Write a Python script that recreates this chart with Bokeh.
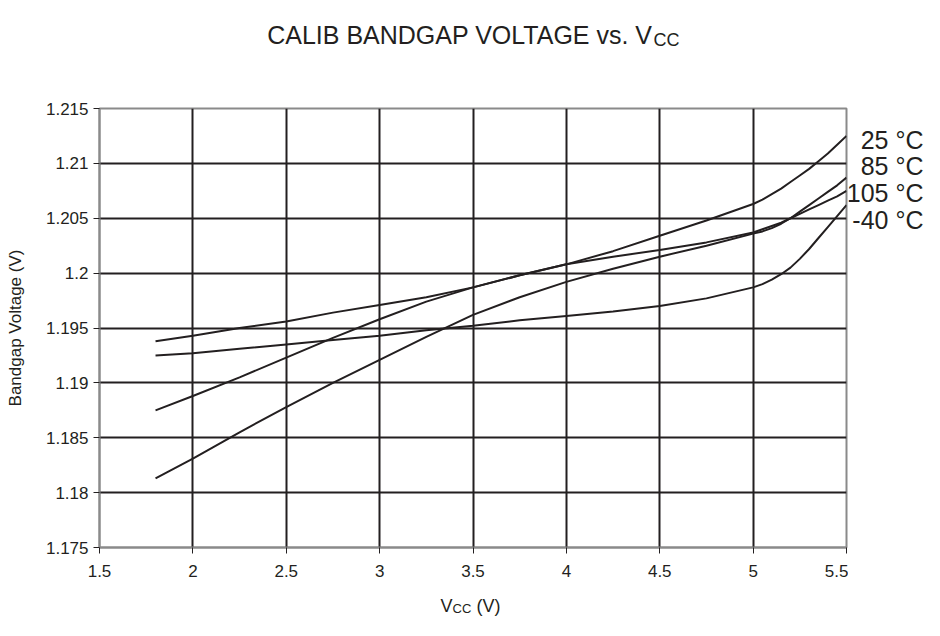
from bokeh.plotting import figure
from bokeh.layouts import column, row
from bokeh.models import FixedTicker, CustomJSTickFormatter, Range1d
from bokeh.core.properties import value
from bokeh.embed import file_html
from bokeh.resources import INLINE

# ---------------- data ----------------
vcc = [1.8, 2.0, 2.25, 2.5, 2.75, 3.0, 3.25, 3.5, 3.75, 4.0, 4.25, 4.5, 4.75,
       5.0, 5.05, 5.1, 5.15, 5.2, 5.25, 5.3, 5.35, 5.4, 5.45, 5.5]
v_25 = [1.1875, 1.1888, 1.1905, 1.1923, 1.1941, 1.1958, 1.1974, 1.1987, 1.1998,
        1.2008, 1.2020, 1.2034, 1.2048, 1.2063, 1.2067, 1.2072, 1.2077, 1.2083,
        1.2089, 1.2095, 1.2102, 1.2109, 1.2117, 1.2125]
v_85 = [1.1813, 1.1831, 1.1855, 1.1878, 1.1900, 1.1921, 1.1942, 1.1962, 1.1978,
        1.1992, 1.2004, 1.2015, 1.2025, 1.2036, 1.2038, 1.2041, 1.2045, 1.2050,
        1.2056, 1.2062, 1.2068, 1.2074, 1.2080, 1.2087]
v_105 = [1.1938, 1.1943, 1.1950, 1.1956, 1.1964, 1.1971, 1.1978, 1.1987, 1.1998,
         1.2008, 1.2015, 1.2021, 1.2028, 1.2037, 1.2040, 1.2043, 1.2046, 1.2050,
         1.2054, 1.2058, 1.2062, 1.2066, 1.2070, 1.2075]
v_m40 = [1.1925, 1.1927, 1.1931, 1.1935, 1.1939, 1.1943, 1.1948, 1.1952, 1.1957,
         1.1961, 1.1965, 1.1970, 1.1977, 1.1987, 1.1990, 1.1994, 1.1999, 1.2005,
         1.2013, 1.2022, 1.2032, 1.2042, 1.2052, 1.2062]
series_labels = ["25 °C", "85 °C", "105 °C", "-40 °C"]
x_ticks = [1.5, 2.0, 2.5, 3.0, 3.5, 4.0, 4.5, 5.0, 5.5]
y_ticks = [1.175, 1.18, 1.185, 1.19, 1.195, 1.2, 1.205, 1.21, 1.215]
title_main, title_sub = "CALIB BANDGAP VOLTAGE vs. V", "CC"
xlab_parts = ["V", "CC", "(V)"]
ylab = "Bandgap Voltage (V)"

# ---------------- geometry (canvas pixels) ----------------
W, H = 924, 620
TITLE_H = 58            # strip holding the title
XLAB_H = 36             # strip holding the x-axis label
MAIN_H = H - TITLE_H - XLAB_H
RIGHT_W = 76            # strip holding the series labels
MAIN_W = W - RIGHT_W
FR_L, FR_R = 99, 846    # frame left / right
FR_T, FR_B = 108, 547   # frame top / bottom
B_TOP = FR_T - TITLE_H
B_BOT = (TITLE_H + MAIN_H) - FR_B

INK = "#231f20"
FONT = "Liberation Sans"


def text_strip(w, h, xr, yr, bt=0, bb=0):
    f = figure(width=w, height=h, output_backend="svg", toolbar_location=None,
               x_range=Range1d(*xr), y_range=Range1d(*yr),
               x_axis_type=None, y_axis_type=None,
               min_border=0, min_border_left=0, min_border_right=0,
               min_border_top=bt, min_border_bottom=bb)
    f.outline_line_color = None
    f.background_fill_color = "white"
    f.border_fill_color = "white"
    return f


def put(f, txt, x, y, size, align="left"):
    f.text(x=[x], y=[y], text=[txt], text_font=value(FONT),
           text_font_size=f"{size}px", text_color=INK,
           text_align=align, text_baseline="alphabetic")


# ---------------- main chart ----------------
p = figure(width=MAIN_W, height=MAIN_H, output_backend="svg", toolbar_location=None,
           x_range=Range1d(x_ticks[0], x_ticks[-1]),
           y_range=Range1d(y_ticks[0], y_ticks[-1]),
           min_border_left=FR_L, min_border_right=MAIN_W - FR_R,
           min_border_top=B_TOP, min_border_bottom=B_BOT)
p.outline_line_color = "#8a8a8a"
p.outline_line_width = 2
p.background_fill_color = "white"
p.border_fill_color = "white"

fmt = CustomJSTickFormatter(code="return String(parseFloat(tick.toFixed(3)));")
for ax, ticks in ((p.xaxis[0], x_ticks), (p.yaxis[0], y_ticks)):
    ax.ticker = FixedTicker(ticks=ticks)
    ax.formatter = fmt
    ax.axis_line_color = "#8a8a8a"
    ax.axis_line_width = 2
    ax.major_tick_line_color = INK
    ax.major_tick_line_width = 1
    ax.major_tick_out = 6
    ax.major_tick_in = 0
    ax.minor_tick_line_color = None
    ax.major_label_text_font = FONT
    ax.major_label_text_font_size = "17px"
    ax.major_label_text_color = INK
p.xaxis.major_label_standoff = 11
p.yaxis.major_label_standoff = 5

p.yaxis.axis_label = ylab
p.yaxis.axis_label_text_font = FONT
p.yaxis.axis_label_text_font_size = "17px"
p.yaxis.axis_label_text_font_style = "normal"
p.yaxis.axis_label_text_color = INK
p.yaxis.axis_label_standoff = 18

for g, ticks in ((p.xgrid[0], x_ticks), (p.ygrid[0], y_ticks)):
    g.ticker = FixedTicker(ticks=ticks)
    g.grid_line_color = INK
    g.grid_line_width = 2

for ys in (v_25, v_85, v_105, v_m40):
    p.line(vcc, ys, line_color=INK, line_width=2)

# ---------------- title strip (canvas coords, y downwards) ----------------
t = text_strip(W, TITLE_H, (0, W), (TITLE_H, 0))
put(t, title_main, 652, 34, 25, align="right")
put(t, title_sub, 653, 39, 18, align="left")

# ---------------- right strip: same vertical borders as the main chart ----------------
r = text_strip(RIGHT_W, MAIN_H, (MAIN_W, W), (FR_B, FR_T), bt=B_TOP, bb=B_BOT)
for i, lab in enumerate(series_labels):
    put(r, lab, W - 1, 139 + i * 26.7, 25, align="right")

# ---------------- x-axis label strip (local coords, y downwards) ----------------
b = text_strip(W, XLAB_H, (0, W), (XLAB_H, 0))
put(b, xlab_parts[0], 440, 21, 18)
put(b, xlab_parts[1], 452, 24, 13)
put(b, xlab_parts[2], 476, 21, 18)

layout = column(t, row(p, r, spacing=0), b, spacing=0)
open("out.html", "w").write(file_html(layout, INLINE))
